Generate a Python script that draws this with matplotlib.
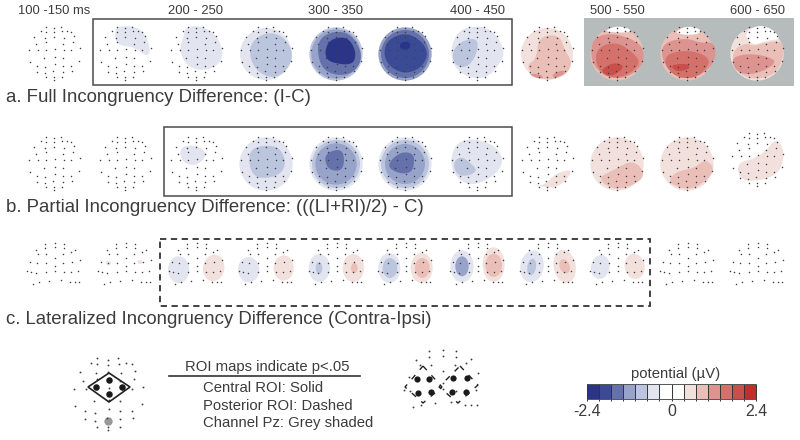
import matplotlib
matplotlib.use('Agg')
import matplotlib.pyplot as plt
import numpy as np
from matplotlib.colors import ListedColormap, BoundaryNorm
from matplotlib.patches import Circle, Ellipse, Polygon, Rectangle

plt.rcParams['font.family'] = ['Liberation Sans', 'DejaVu Sans']

time_labels = ['100 -150 ms', '200 - 250', '300 - 350', '400 - 450', '500 - 550', '600 - 650']
time_map_index = [0, 2, 4, 6, 8, 10]
map_x = [54, 125, 196, 266, 336, 405, 477, 547, 617, 687, 757]

bar_colors = ['#2b3588', '#3a4a95', '#6471aa', '#97a3c9', '#bcc5de', '#e2e5ef', '#ffffff',
              '#ffffff', '#f2e0dc', '#eabfb8', '#dd9490', '#d4716b', '#c84f4b', '#c02f2f']
bar_edges = np.linspace(-2.4, 2.4, 15)
bar_ticks = [-2.4, 0, 2.4]

full_head_x = [125, 140, 140, 163, 163, 185, 187, 203, 215, 103, 137, 163, 192, 222, 108, 138, 190, 220,
               88, 115, 140, 165, 193, 215, 240, 92, 133, 165, 190, 237, 112, 135, 165, 190, 215,
               112, 135, 160, 190, 218, 138, 163, 163, 188]
full_head_y = [95, 85, 98, 88, 100, 85, 97, 95, 98, 115, 118, 115, 118, 112, 135, 130, 135, 130,
               152, 152, 153, 150, 153, 152, 148, 190, 178, 175, 178, 185, 200, 205, 195, 200, 200,
               218, 222, 215, 218, 215, 235, 235, 242, 235]
half_head_x = [135, 135, 165, 165, 192, 192, 108, 115, 140, 190, 215, 225, 165, 92, 112, 140, 165, 190,
               218, 240, 82, 95, 110, 138, 165, 192, 215, 235, 100, 118, 147, 183, 212, 225, 237]
half_head_y = [42, 55, 40, 52, 42, 55, 62, 72, 73, 72, 68, 60, 85, 97, 100, 100, 110, 100,
               98, 90, 125, 128, 130, 127, 123, 128, 127, 125, 163, 158, 153, 152, 157, 158, 158]
head_cx, head_cy = 163, 165
half_cx, half_cy = 163, 100

# row a: map index -> (crop centre x, [(potential, radius or outline), ...])
row_a = {
    1: (375, [(-0.5, [(350, 82), (410, 82), (442, 112), (452, 168), (432, 168), (405, 145), (348, 138), (345, 100)])]),
    2: (587, [(-0.5, [(555, 82), (610, 82), (652, 112), (672, 170), (642, 208), (590, 215), (553, 193), (537, 150), (548, 120)])]),
    3: (797, [(-0.5, 78),
              (-0.85, [(800, 98), (852, 113), (880, 165), (862, 212), (820, 240), (768, 217), (747, 170), (753, 128)])]),
    4: (1008, [(-0.85, 80), (-1.2, 74),
               (-1.55, [(950, 125), (1000, 95), (1055, 105), (1090, 170), (1065, 220), (1010, 232), (960, 205)]),
               (-2.25, [(983, 122), (1042, 112), (1068, 155), (1063, 192), (1030, 198), (972, 183)])]),
    5: (1215, [(-1.2, 80), (-1.55, 72),
               (-1.9, [(1165, 120), (1220, 100), (1270, 130), (1285, 170), (1260, 210), (1210, 225), (1165, 200), (1150, 160)]),
               (-2.0, [(1175, 130), (1225, 120), (1265, 150), (1275, 175), (1250, 195), (1210, 200), (1175, 185), (1165, 155)]),
               (-2.25, [(1200, 130), (1230, 127), (1232, 150), (1200, 153)])]),
    6: (230, [(-0.5, [(195, 83), (260, 83), (297, 120), (314, 165), (292, 202), (260, 237), (205, 237), (163, 207), (150, 160), (163, 113)]),
              (-0.85, [(215, 117), (235, 128), (225, 177), (195, 208), (163, 197), (155, 165), (173, 133)])]),
    7: (440, [(0.5, 78),
              (0.85, [(415, 112), (477, 107), (492, 150), (518, 195), (492, 232), (440, 244), (398, 227), (378, 200), (408, 180)]),
              (1.2, [(385, 222), (425, 228), (430, 240), (400, 235)]),
              (1.2, [(455, 225), (490, 212), (495, 225), (460, 238)])]),
    8: (650, [(0.85, 80),
              (0.0, [(612, 96), (650, 80), (692, 90), (684, 101), (640, 100)]),
              (1.2, [(585, 112), (640, 103), (700, 122), (732, 150), (728, 200), (680, 237), (620, 237), (578, 200), (570, 150)]),
              (1.55, [(590, 145), (650, 128), (700, 162), (722, 192), (680, 232), (620, 237), (585, 197)]),
              (1.9, [(600, 212), (640, 190), (674, 200), (650, 225), (620, 232)])]),
    9: (860, [(0.85, 80),
              (0.0, [(822, 100), (860, 80), (902, 90), (896, 106), (850, 108)]),
              (1.2, [(788, 130), (860, 117), (900, 132), (942, 130), (948, 170), (927, 212), (870, 242), (818, 227), (783, 180)]),
              (1.55, [(798, 165), (860, 153), (917, 168), (930, 195), (890, 237), (830, 237), (793, 200)]),
              (1.9, [(808, 198), (860, 193), (872, 208), (830, 220)])]),
    10: (1073, [(0.5, 80),
                (0.0, [(1033, 105), (1073, 78), (1114, 86), (1147, 120), (1100, 125), (1060, 140)]),
                (0.85, [(993, 160), (1040, 130), (1060, 142), (1100, 130), (1152, 125), (1152, 180), (1127, 227), (1070, 242), (1018, 227)]),
                (1.2, [(998, 173), (1060, 163), (1122, 178), (1127, 195), (1080, 222), (1030, 227), (1003, 207)])]),
}

row_b = {
    2: (587, [(-0.5, [(538, 113), (585, 108), (617, 128), (612, 152), (580, 172), (543, 157)])]),
    3: (797, [(-0.5, 80),
              (-0.85, [(758, 113), (830, 108), (857, 150), (847, 192), (800, 209), (758, 202), (743, 150)])]),
    4: (1008, [(-0.65, 80), (-0.85, 72), (-1.2, 62),
               (-1.55, [(985, 128), (1027, 120), (1034, 160), (1022, 187), (985, 182), (973, 150)])]),
    5: (1215, [(-0.6, 80), (-0.85, 72), (-1.2, 60),
               (-1.55, [(1158, 170), (1200, 128), (1242, 133), (1242, 170), (1232, 192), (1195, 194)])]),
    6: (230, [(-0.5, [(168, 98), (230, 88), (287, 113), (307, 145), (302, 177), (265, 212), (210, 230), (168, 207), (148, 160)]),
              (-0.85, [(158, 160), (180, 143), (200, 153), (234, 185), (200, 202), (168, 197)])]),
    7: (440, [(0.5, [(460, 198), (490, 186), (517, 183), (492, 222), (450, 240), (388, 222), (430, 232)])]),
    8: (650, [(0.5, 80),
              (0.85, [(595, 205), (640, 183), (695, 153), (732, 185), (722, 217), (660, 242), (618, 232)])]),
    9: (860, [(0.5, 80),
              (0.85, [(803, 220), (825, 188), (880, 178), (915, 150), (942, 175), (927, 207), (880, 240), (838, 237)])]),
    10: (1073, [(0.5, [(1023, 170), (1060, 163), (1100, 138), (1130, 98), (1157, 140), (1142, 202), (1090, 227), (1028, 227), (1013, 195)])]),
}

# row c: lateralized pairs (map index, potential, x offset, y offset, rx, ry, tilt), crop units
row_c = [
    (1, -0.5, -50, 0, 8, 7, 0), (1, 0.5, 45, -3, 8, 6, 0),
    (2, -0.5, -52, 20, 32, 40, 0), (2, 0.5, 53, 15, 32, 40, 10),
    (3, -0.5, -52, 20, 32, 38, 0), (3, 0.5, 53, 15, 30, 38, 0),
    (4, -0.5, -50, 15, 32, 42, 0), (4, -0.85, -51, 15, 10, 18, 0),
    (4, 0.5, 52, 15, 32, 42, 0), (4, 0.85, 55, 15, 10, 15, 0),
    (5, -0.5, -47, 15, 33, 45, 0), (5, -0.85, -45, 15, 22, 30, 0),
    (5, 0.5, 50, 15, 33, 45, 0), (5, 0.85, 52, 15, 22, 30, 0),
    (6, -0.5, -45, 10, 35, 48, 0), (6, -1.2, -45, 10, 20, 30, 0),
    (6, 0.5, 50, 5, 33, 52, 0), (6, 0.85, 50, 7, 25, 35, 0),
    (7, -0.5, -45, 10, 35, 48, 10), (7, -0.85, -46, 12, 13, 25, 10),
    (7, 0.5, 53, 10, 33, 50, -10), (7, 0.85, 53, 10, 15, 22, -20),
    (8, -0.5, -50, 12, 28, 36, 10), (8, 0.5, 53, 10, 30, 38, -10),
]

# legend data
roi_solid_x = [178, 138, 215, 178]
roi_solid_y = [120, 142, 142, 163]
roi_dash_x = [50, 87, 55, 93, 160, 200, 155, 197]
roi_dash_y = [117, 118, 160, 157, 115, 113, 155, 157]
legend_lines = ['Central ROI: Solid', 'Posterior ROI: Dashed', 'Channel Pz: Grey shaded']
row_labels = ['a. Full Incongruency Difference: (I-C)',
              'b. Partial Incongruency Difference: (((LI+RI)/2) - C)',
              'c. Lateralized Incongruency Difference (Contra-Ipsi)']

text_color = '#3c3c3c'
frame_color = '#4a4a4a'
dot_color = '#404040'

cmap = ListedColormap(bar_colors)
norm = BoundaryNorm(bar_edges, cmap.N)


def smooth(points, passes=3):
    # corner cutting so the hand-read outlines come out as soft contours
    pts = np.array(points, dtype=float)
    for _ in range(passes):
        nxt = np.roll(pts, -1, axis=0)
        pts = np.column_stack([0.75 * pts + 0.25 * nxt, 0.25 * pts + 0.75 * nxt]).reshape(-1, 2)
    return pts


def draw_layers(ax, x0, y0, cx, layers):
    for value, shape in layers:
        color = cmap(norm(value))
        if np.isscalar(shape):
            ax.add_patch(Circle((x0, y0), shape / 3, fc=color, ec='none', zorder=3))
        else:
            pts = smooth(shape)
            pts = (pts - [cx, head_cy]) / 3 + [x0, y0]
            ax.add_patch(Polygon(pts, closed=True, fc=color, ec='none', zorder=3))


fig = plt.figure(figsize=(8, 4.4), dpi=100)
ax = fig.add_axes([0, 0, 1, 1])
ax.set_xlim(0, 800)
ax.set_ylim(440, 0)
ax.axis('off')

# grey panel behind the last maps of row a
ax.add_patch(Rectangle((584, 18), 210, 68, fc='#b6bcbc', ec='none', zorder=1))

row_y = [54, 164, 263]
fx = (np.array(full_head_x) - head_cx) / 3
fy = (np.array(full_head_y) - head_cy) / 3
hx = (np.array(half_head_x) - half_cx) / 3
hy = (np.array(half_head_y) - half_cy) / 3

for i, x0 in enumerate(map_x):
    if i in row_a:
        draw_layers(ax, x0, row_y[0], row_a[i][0], row_a[i][1])
    y_b = row_y[1] - 4 if i == 10 else row_y[1]
    if i in row_b:
        draw_layers(ax, x0, y_b, row_b[i][0], row_b[i][1])
    ax.scatter(x0 + fx, row_y[0] + fy, s=1.2, c=dot_color, lw=0, zorder=5)
    ax.scatter(x0 + fx, y_b + fy, s=1.2, c=dot_color, lw=0, zorder=5)
    ax.scatter(x0 + hx, row_y[2] + hy, s=1.2, c=dot_color, lw=0, zorder=5)

for i, value, dx, dy, rx, ry, tilt in row_c:
    ax.add_patch(Ellipse((map_x[i] + dx / 3, row_y[2] + dy / 3), 2 * rx / 3, 2 * ry / 3, angle=tilt,
                         fc=cmap(norm(value)), ec='none', zorder=3))

# region frames
ax.add_patch(Rectangle((92.5, 19.5), 419.5, 65.5, fc='none', ec=frame_color, lw=1.1, zorder=6))
ax.add_patch(Rectangle((164, 127), 348, 69, fc='none', ec=frame_color, lw=1.1, zorder=6))
ax.add_patch(Rectangle((160, 239.5), 490, 66.5, fc='none', ec='#333333', lw=1.3, ls=(0, (3.5, 2.5)), zorder=6))

for label, i in zip(time_labels, time_map_index):
    ax.text(map_x[i], 11, label, ha='center', va='center', fontsize=9.4, color=text_color)
for label, y in zip(row_labels, [97, 207, 319]):
    ax.text(6, y, label, ha='left', va='center', fontsize=13.4, color=text_color)

# left legend head
scale = 1.38
ax.scatter(108 + fx * scale, 395 + fy * scale, s=1.8, c=dot_color, lw=0, zorder=5)
ax.add_patch(Polygon([(109, 373), (130, 387), (109, 402), (88, 387)], closed=True, fc='none',
                     ec='#222222', lw=1.2, zorder=6))
ax.scatter(50 + np.array(roi_solid_x) / 3, 340 + np.array(roi_solid_y) / 3, s=22, c='#1a1a1a', lw=0, zorder=6)
ax.scatter([108], [421], s=36, c='#999999', lw=0, zorder=4)

ax.text(267, 367, 'ROI maps indicate p<.05', ha='center', va='center', fontsize=10.7, color=text_color)
ax.plot([169, 360], [376, 376], color='#333333', lw=1.2, zorder=4)
for label, y in zip(legend_lines, [388, 406, 423]):
    ax.text(203, y, label, ha='left', va='center', fontsize=10.7, color=text_color)

# right legend head, both hemispheres
scale = 1.4
ax.scatter(442 + hx * scale, 378 + hy * scale, s=1.8, c=dot_color, lw=0, zorder=5)
ax.scatter(400 + np.array(roi_dash_x) / 3, 340 + np.array(roi_dash_y) / 3, s=20, c='#1a1a1a', lw=0, zorder=6)
ax.add_patch(Polygon([(423, 366), (442, 387), (423, 403), (405, 387)], closed=True, fc='none',
                     ec='#222222', lw=1, ls=(0, (4, 5)), zorder=6))
ax.add_patch(Polygon([(460, 366), (478, 385), (458, 403), (439, 387)], closed=True, fc='none',
                     ec='#222222', lw=1, ls=(0, (4, 5)), zorder=6))

# colour bar
bar_x = np.interp(bar_edges, [-2.4, 2.4], [587, 756])
ax.pcolormesh(bar_x, [384, 399], [(bar_edges[:-1] + bar_edges[1:]) / 2], cmap=cmap, norm=norm, zorder=3)
ax.vlines(bar_x, 384, 401, color='#333333', lw=0.7, zorder=4)
ax.hlines([384, 399], 587, 756, color='#555555', lw=0.7, zorder=4)
for tick in bar_ticks:
    ax.text(np.interp(tick, [-2.4, 2.4], [587, 756]), 411, '%g' % tick, ha='center', va='center',
            fontsize=11.5, color=text_color)
ax.text(676, 374, 'potential (µV)', ha='center', va='center', fontsize=10.7, color=text_color)

fig.savefig('out.png', dpi=100)
